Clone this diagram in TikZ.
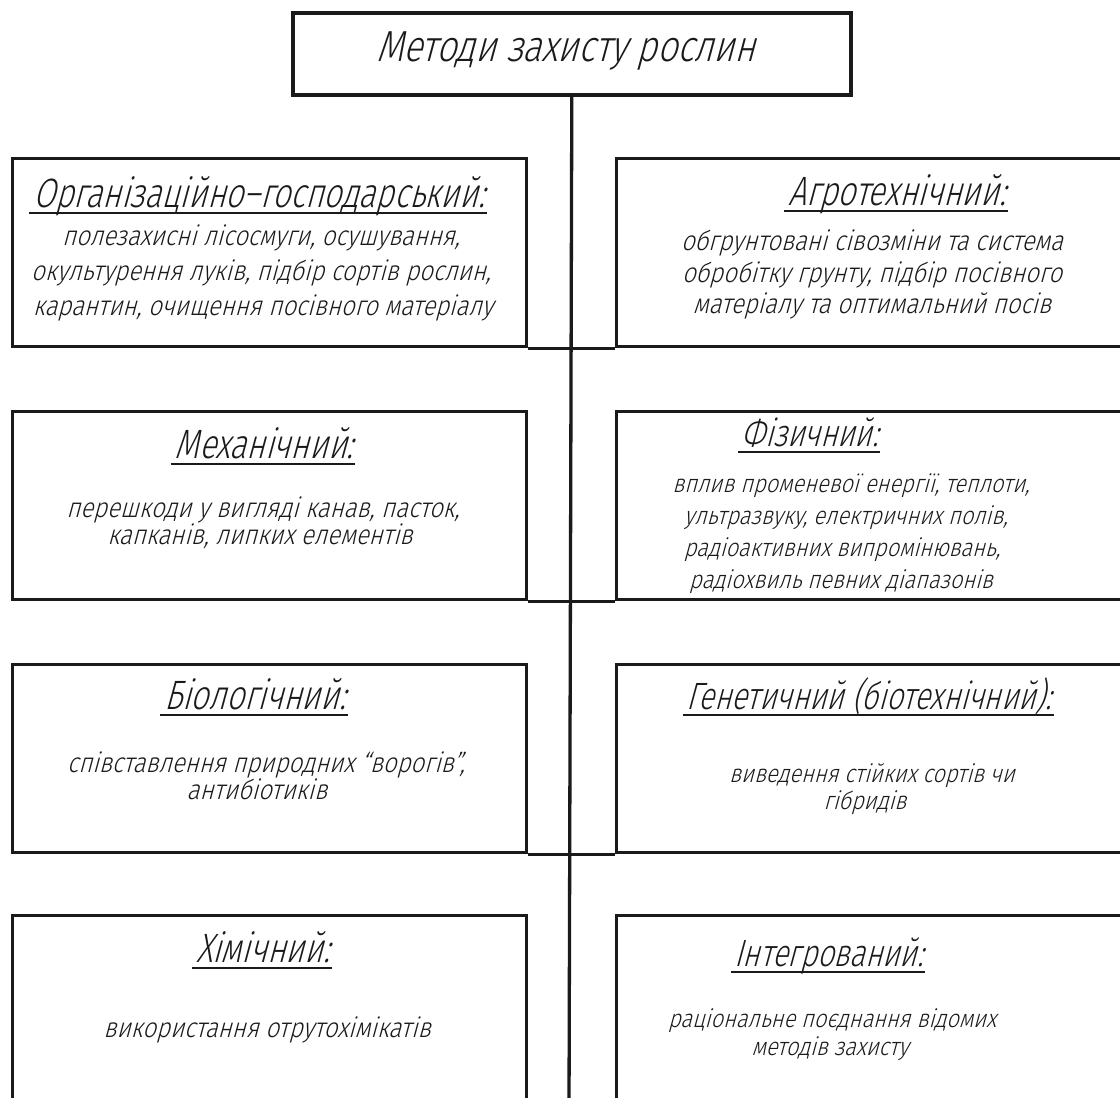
\documentclass[tikz,border=0pt]{standalone}
\usepackage{fontspec}
\newfontfamily\gostt{Fira Sans Light}[FakeSlant=0.27,FakeStretch=0.81]
\newfontfamily\gosth{Fira Sans Light}[FakeSlant=0.27,FakeStretch=0.77]
\newfontfamily\gostb{Fira Sans Light}[FakeSlant=0.27,FakeStretch=0.87]
\definecolor{ink}{HTML}{1A1A1A}
\begin{document}
\begin{tikzpicture}[x=1pt,y=-1pt,
  box/.style={draw=ink, line width=3.3pt, minimum width=514pt, minimum height=188pt, inner sep=0pt, anchor=north west},
  conn/.style={draw=ink, line width=3.3pt},
  titletext/.style={font=\gostt\fontsize{43.5}{50}\selectfont, text=ink, inner sep=0pt, anchor=base},
  head/.style={font=\gosth\fontsize{41}{48}\selectfont, text=ink, inner sep=0pt, anchor=base},
  heads/.style={font=\gosth\fontsize{38}{44}\selectfont, text=ink, inner sep=0pt, anchor=base},
  body/.style={font=\gostb\fontsize{27.5}{32}\selectfont, text=ink, inner sep=0pt, anchor=base},
  bodys/.style={font=\gostb\fontsize{25}{30}\selectfont, text=ink, inner sep=0pt, anchor=base},
  uline/.style={draw=ink, line width=1.6pt}]
\fill[white] (0,0) rectangle (1120,1098);
\useasboundingbox (0,0) rectangle (1120,1098);

% title
\node[draw=ink, line width=3.6pt, minimum width=558pt, minimum height=82pt, inner sep=0pt, anchor=north west] (top) at (291,11) {};
\node[titletext] (tt) at (566,61) {Методи захисту рослин};

% boxes
\node[box] (L1) at (11,157) {};
\node[box] (R1) at (615,157) {};
\node[box] (L2) at (11,410) {};
\node[box] (R2) at (615,410) {};
\node[box] (L3) at (11,663) {};
\node[box] (R3) at (615,663) {};
\node[box] (L4) at (11,914) {};
\node[box] (R4) at (615,914) {};

% connectors
\coordinate (trunkend) at (569,1110);
\draw[conn] (top.south) -- (trunkend);
\draw[conn] (L1.south east) -- (R1.south west);
\draw[conn] (L2.south east) -- (R2.south west);
\draw[conn] (L3.south east) -- (R3.south west);

% row 1
\node[head] (h1) at (259,207) {Організаційно–господарський:};
\node[body] (b1a) at (261,245) {полезахисні лісосмуги, осушування,};
\node[body] (b1b) at (261,280) {окультурення луків, підбір сортів рослин,};
\node[body] (b1c) at (263,315) {карантин, очищення посівного матеріалу};
\node[head] (h2) at (897,205) {Агротехнічний:};
\node[body] (b2a) at (872,250) {обгрунтовані сівозміни та система};
\node[body] (b2b) at (872,282) {обробітку грунту, підбір посівного};
\node[body] (b2c) at (872,313) {матеріалу та оптимальний посів};

% row 2
\node[head] (h3) at (264,458) {Механічний:};
\node[body] (b3a) at (263,517) {перешкоди у вигляді канав, пасток,};
\node[body] (b3b) at (260,544) {капканів, липких елементів};
\node[heads] (h4) at (810,446) {Фізичний:};
\node[bodys] (b4a) at (851,492) {вплив променевої енергії, теплоти,};
\node[bodys] (b4b) at (846,524) {ультразвуку, електричних полів,};
\node[bodys] (b4c) at (842,556) {радіоактивних випромінювань,};
\node[bodys] (b4d) at (841,588) {радіохвиль певних діапазонів};

% row 3
\node[head] (h5) at (255,709) {Біологічний:};
\node[body] (b5a) at (266,772) {співставлення природних “ворогів”,};
\node[body] (b5b) at (257,799) {антибіотиків};
\node[heads] (h6) at (869,709) {Генетичний (біотехнічний):};
\node[bodys] (b6a) at (872,782) {виведення стійких сортів чи};
\node[bodys] (b6b) at (865,809) {гібридів};

% row 4
\node[head] (h7) at (263,962) {Хімічний:};
\node[body] (b7a) at (267,1037) {використання отрутохімікатів};
\node[heads] (h8) at (829,966) {Інтегрований:};
\node[bodys] (b8a) at (832,1027) {раціональне поєднання відомих};
\node[bodys] (b8b) at (830,1055) {методів захисту};

% underlines
\foreach \h in {h1,h2,h3,h4,h5,h6,h7,h8}
  \draw[uline] ([xshift=-4pt,yshift=-6pt]\h.base west) -- ([xshift=2pt,yshift=-6pt]\h.base east);
\end{tikzpicture}
\end{document}
